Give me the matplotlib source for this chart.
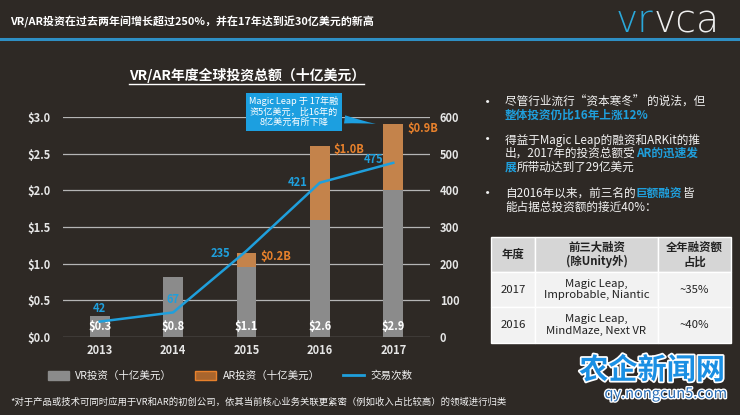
import matplotlib
matplotlib.use("Agg")
import matplotlib.pyplot as plt
import matplotlib.patheffects as pe
from matplotlib.patches import Patch, Rectangle
from matplotlib.lines import Line2D

plt.rcParams['font.family'] = ['Noto Sans CJK SC', 'DejaVu Sans']

W, H = 740, 415
BG = '#2e2925'
BLUE = '#1f9fdc'
GRAY = '#8b8b8b'
ORANGE = '#c4834b'
ORANGE_TXT = '#e8812c'
WHITE = '#f2f2f2'

# data
years = ['2013', '2014', '2015', '2016', '2017']
vr_invest = [0.28, 0.82, 0.95, 1.6, 2.0]
ar_invest = [0.0, 0.0, 0.2, 1.0, 0.9]
total_labels = ['$0.3', '$0.8', '$1.1', '$2.6', '$2.9']
ar_labels = ['', '', '$0.2B', '$1.0B', '$0.9B']
deals = [42, 67, 235, 421, 475]

left_ticks = [0.0, 0.5, 1.0, 1.5, 2.0, 2.5, 3.0]
right_ticks = [0, 100, 200, 300, 400, 500, 600]

table_header = ['年度', '前三大融资\n(除Unity外)', '全年融资额\n占比']
table_rows = [
    ['2017', 'Magic Leap,\nImprobable, Niantic', '~35%'],
    ['2016', 'Magic Leap,\nMindMaze, Next VR', '~40%'],
]

bullets = [
    [[('尽管行业流行“资本寒冬” 的说法，但', WHITE, 'normal')],
     [('整体投资仍比16年上涨12%', BLUE, 'bold')]],
    [[('得益于Magic Leap的融资和ARKit的推', WHITE, 'normal')],
     [('出，2017年的投资总额受', WHITE, 'normal'), ('AR的迅速发', BLUE, 'bold')],
     [('展', BLUE, 'bold'), ('所带动达到了29亿美元', WHITE, 'normal')]],
    [[('自2016年以来，前三名的', WHITE, 'normal'), ('巨额融资', BLUE, 'bold'), ('皆', WHITE, 'normal')],
     [('能占据总投资额的接近40%：', WHITE, 'normal')]],
]


def fx(x):
    return x / W


def fy(y):
    return 1 - y / H


fig = plt.figure(figsize=(W / 100, H / 100), dpi=100, facecolor=BG)
renderer = fig.canvas.get_renderer()


def draw_runs(x, y, runs, size):
    for txt, color, weight in runs:
        t = fig.text(fx(x), fy(y), txt, color=color, fontsize=size,
                     fontweight=weight, ha='left', va='center')
        x += t.get_window_extent(renderer).width


# header
fig.text(fx(10), fy(22), 'VR/AR投资在过去两年间增长超过250%，并在17年达到近30亿美元的新高',
         color='white', fontsize=7.9, fontweight='bold', va='center')
fig.add_artist(Line2D([0, 1], [fy(39.5), fy(39.5)], color='#2e8fc4', lw=2.2))
logo_runs = [('vr', '#2aa8da', 'light'), ('vca', '#f0f0f0', 'light')]
x0 = 616
for txt, color, weight in logo_runs:
    t = fig.text(fx(x0), fy(22), txt, color=color, fontsize=27, fontweight=weight,
                 family='DejaVu Sans', ha='left', va='center')
    x0 += t.get_window_extent(renderer).width

# chart title
fig.text(fx(247), fy(75), 'VR/AR年度全球投资总额（十亿美元）', color='white',
         fontsize=10, fontweight='bold', ha='center', va='center')
fig.add_artist(Line2D([fx(129), fx(364)], [fy(84), fy(84)], color='white', lw=1))

# main axes
ax = fig.add_axes([fx(63), fy(337), (430 - 63) / W, (337 - 117) / H])
ax.set_facecolor('none')
xs = list(range(len(years)))
ax.bar(xs, vr_invest, width=0.27, color=GRAY, zorder=2)
ax.bar(xs, ar_invest, width=0.27, bottom=vr_invest, color=ORANGE, zorder=2)
ax.set_xlim(-0.5, 4.5)
ax.set_ylim(0, 3.0)
ax.set_yticks(left_ticks)
ax.set_yticklabels(['$%.1f' % v for v in left_ticks])
ax.set_xticks(xs)
ax.set_xticklabels(years)
ax.yaxis.grid(True, color='#b5b5b5', lw=0.9, zorder=0)
ax.tick_params(length=0, colors='#e6e6e6', labelsize=8)
ax.tick_params(axis='y', pad=9)
ax.tick_params(axis='x', pad=5)
for lbl in ax.get_xticklabels() + ax.get_yticklabels():
    lbl.set_fontweight('bold')
for s in ax.spines.values():
    s.set_visible(False)

for i in xs:
    ax.text(i, 0.14, total_labels[i], color='white', fontsize=8, fontweight='bold',
            ha='center', va='center', zorder=3)
    if ar_labels[i]:
        ax.text(i + 0.19, vr_invest[i] + ar_invest[i] - 0.05, ar_labels[i],
                color=ORANGE_TXT, fontsize=8, fontweight='bold', ha='left', va='center')

ax2 = ax.twinx()
ax2.plot(xs, deals, color=BLUE, lw=1.8, zorder=4)
ax2.set_ylim(0, 600)
ax2.set_yticks(right_ticks)
ax2.tick_params(length=0, colors='#e6e6e6', labelsize=8, pad=7)
for lbl in ax2.get_yticklabels():
    lbl.set_fontweight('bold')
for s in ax2.spines.values():
    s.set_visible(False)

deal_offsets = [(0, 37, 'center'), (0, 34, 'center'), (-0.22, -6, 'right'),
                (-0.17, 0, 'right'), (-0.13, 8, 'right')]
for i, (dx, dy, ha) in enumerate(deal_offsets):
    ax2.text(i + dx, deals[i] + dy, str(deals[i]), color=BLUE, fontsize=8,
             fontweight='bold', ha=ha, va='center', zorder=5)

ax2.annotate('Magic Leap 于 17年融\n资5亿美元，比16年的\n8亿美元有所下降',
             xy=(3.8, 2.9 * 200), xycoords='data',
             xytext=(fx(294), fy(112)), textcoords='figure fraction',
             color='white', fontsize=6.6, ha='center', va='center', linespacing=1.2,
             bbox=dict(boxstyle='square,pad=0.35', fc='#1c9fe0', ec='none'),
             arrowprops=dict(arrowstyle='wedge,tail_width=0.9,shrink_factor=0.4',
                             fc='#1c9fe0', ec='none'),
             zorder=6, annotation_clip=False)

# legend
handles = [Patch(fc=GRAY, ec=GRAY), Patch(fc='#a9652d', ec=ORANGE_TXT, lw=1),
           Line2D([0], [0], color=BLUE, lw=2)]
labels = ['VR投资（十亿美元）', 'AR投资（十亿美元）', '交易次数']
leg = fig.legend(handles, labels, ncol=3, loc='center', bbox_to_anchor=(fx(230), fy(376)),
                 frameon=False, fontsize=7.6, labelcolor=WHITE, handlelength=2.0,
                 handleheight=0.8, columnspacing=2.2, handletextpad=0.6)

# footnote
fig.text(fx(10), fy(402), '*对于产品或技术可同时应用于VR和AR的初创公司，依其当前核心业务关联更紧密（例如收入占比较高）的领域进行归类',
         color=WHITE, fontsize=6.75, va='center')

# bullets
line_ys = [[102, 115], [140, 153, 167], [193, 207]]
for block, ys in zip(bullets, line_ys):
    fig.text(fx(488), fy(ys[0]), '•', color=WHITE, fontsize=11, ha='center', va='center')
    for runs, y in zip(block, ys):
        draw_runs(505, y, runs, 8.4)

# table
col_x = [491, 535, 658, 731]
row_y = [237, 272, 307, 343]
for r in range(3):
    fc = '#d6d6d6' if r == 0 else '#f2f2f2'
    cells = table_header if r == 0 else table_rows[r - 1]
    for c in range(3):
        fig.add_artist(Rectangle((fx(col_x[c]), fy(row_y[r + 1])),
                                 (col_x[c + 1] - col_x[c]) / W,
                                 (row_y[r + 1] - row_y[r]) / H,
                                 transform=fig.transFigure, fc=fc, ec='white', lw=1))
        fig.text(fx((col_x[c] + col_x[c + 1]) / 2), fy((row_y[r] + row_y[r + 1]) / 2),
                 cells[c], color='#222222', fontsize=8.2,
                 fontweight='bold' if r == 0 else 'normal',
                 ha='center', va='center', linespacing=1.15)

# watermark
fig.text(fx(652), fy(370), '农企新闻网', color='#1a8fe3', fontsize=21, fontweight='bold',
         ha='center', va='center',
         path_effects=[pe.withStroke(linewidth=2.5, foreground='white')])
fig.text(fx(666), fy(394), 'qy.nongcun5.com', color='#2a6fb8', fontsize=10.5,
         ha='center', va='center',
         path_effects=[pe.withStroke(linewidth=2, foreground='white')])

fig.savefig('out.png', dpi=100, facecolor=BG)
